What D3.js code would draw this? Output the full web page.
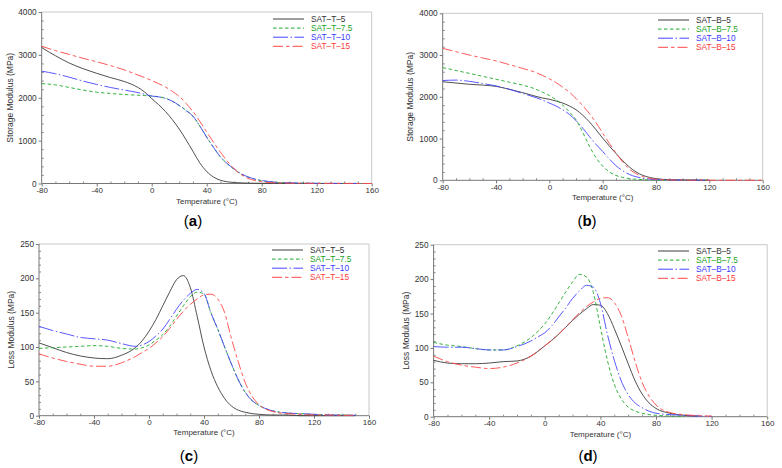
<!DOCTYPE html>
<html><head><meta charset="utf-8">
<script src="https://cdn.jsdelivr.net/npm/d3@7"></script>
<style>body{margin:0;background:#fff}svg{display:block}text{font-family:"Liberation Sans",Arial,sans-serif}</style>
</head><body><svg id="c" width="782" height="468"></svg>
<script>
// ---------- DATA ----------
const temps = [-80,-70,-60,-50,-40,-30,-20,-10,-5,0,5,10,15,20,25,30,35,40,45,50,55,60,65,70,75,80,90,100,110,120,130,140,150,160];
const namesT = ["SAT–T–5","SAT–T–7.5","SAT–T–10","SAT–T–15"];
const namesB = ["SAT–B–5","SAT–B–7.5","SAT–B–10","SAT–B–15"];
const xTicks = [-80,-40,0,40,80,120,160];
const storageTicks = [0,1000,2000,3000,4000];
const lossTicks = [0,50,100,150,200,250];

// (a) storage modulus, SAT-T
const aT5  = [3170,2980,2810,2680,2570,2470,2380,2240,2130,1980,1840,1680,1490,1270,1020,750,480,280,150,75,40,22,14,9,6,4,2,1,1,0,0,0,0,null];
const aT75 = [2330,2300,2240,2180,2130,2100,2075,2060,2050,2040,2025,1990,1920,1820,1710,1570,1340,1080,840,620,460,330,220,150,100,65,30,15,8,5,3,2,1,null];
const aT10 = [2620,2560,2480,2390,2310,2240,2180,2120,2080,2040,2020,1985,1920,1820,1700,1570,1340,1080,840,620,460,340,230,155,105,70,30,15,8,5,3,2,1,null];
const aT15 = [3200,3100,3010,2920,2840,2750,2650,2530,2470,2400,2330,2250,2150,2030,1870,1680,1450,1200,960,730,520,340,210,120,70,40,15,8,5,3,2,2,1,1];
// (b) storage modulus, SAT-B
const bB5  = [2360,2330,2300,2280,2250,2180,2100,2010,1970,1940,1900,1850,1780,1690,1560,1400,1210,1010,820,640,470,320,200,120,70,40,15,8,5,3,null,null,null,null];
const bB75 = [2700,2630,2560,2490,2420,2350,2280,2180,2110,2030,1930,1800,1640,1450,1150,820,540,340,200,115,70,40,25,15,10,6,3,2,1,1,null,null,null,null];
const bB10 = [2390,2400,2370,2320,2260,2180,2080,1980,1920,1850,1780,1690,1580,1430,1250,1050,860,690,510,350,230,140,85,50,30,18,8,4,2,1,null,null,null,null];
const bB15 = [3160,3080,3000,2930,2860,2770,2680,2580,2510,2430,2340,2230,2110,1960,1790,1600,1380,1130,880,650,440,270,160,90,50,25,10,5,3,2,1,1,1,1];
// (c) loss modulus, SAT-T
const cT5  = [106,99,92,87,84,83,88,99,109,123,140,160,180,198,204,187,145,100,66,42,25,14,8,5,3,2,1,1,0,0,0,0,0,null];
const cT75 = [98,99,100,101,102,101,98,97,99,103,110,118,130,145,160,173,180,177,150,126,100,75,52,34,22,15,7,4,3,2,1,1,0.5,null];
const cT10 = [130,124,119,114,112,110,105,101,103,108,116,126,140,155,168,178,184,178,150,126,100,75,52,34,22,15,7,4,3,2,1,1,0.5,null];
const cT15 = [90,84,79,75,72,72,77,86,92,98,106,115,127,140,152,162,170,176,177,170,150,112,78,48,28,16,6,3,2,1,1,0.5,0.5,null];
// (d) loss modulus, SAT-B
const dB5  = [82,78,77,77,78,80,81,88,95,103,111,120,130,140,149,157,163,162,150,128,103,77,52,33,20,12,5,2,1,null,null,null,null,null];
const dB75 = [108,104,102,99,97,97,103,115,124,135,149,165,181,196,207,203,180,130,82,47,26,14,8,5,3,2,1,0.5,null,null,null,null,null,null];
const dB10 = [102,101,101,99,97,97,102,110,116,122,132,145,158,172,183,191,188,165,120,82,52,32,20,13,8,5,3,2,1,0.5,null,null,null,null];
const dB15 = [88,80,75,72,70,72,78,88,95,103,111,120,130,141,151,160,167,172,173,166,147,115,80,50,30,17,6,3,1.5,1,null,null,null,null];

// ---------- STYLE ----------
const colors = ["#3c3c3c","#1faa2a","#4646ff","#ff4646"];
const textColors = ["#333333","#1a9f25","#3a3aff","#ff3a3a"];
const dashes = [null,"3.5,2.5","15,2.5,1.5,2.5","10,3,3.5,3"];

const panels = [
  {label:"a", names:namesT, series:[aT5,aT75,aT10,aT15], ticks:storageTicks, ymax:4000, minor:200, ytitle:"Storage Modulus (MPa)",
   l:41.7,r:371.7,t:12,b:183.5, legX:273, legY:19, ytx:10, xtY:204, labX:193, labY:226},
  {label:"b", names:namesB, series:[bB5,bB75,bB10,bB15], ticks:storageTicks, ymax:4000, minor:200, ytitle:"Storage Modulus (MPa)",
   l:442.7,r:762.7,t:13.3,b:180.3, legX:658, legY:20, ytx:410, xtY:200, labX:587, labY:226},
  {label:"c", names:namesT, series:[cT5,cT75,cT10,cT15], ticks:lossTicks, ymax:250, minor:10, ytitle:"Loss Modulus (MPa)",
   l:39,r:369,t:244,b:415.7, legX:272, legY:250, ytx:11, xtY:435, labX:189, labY:461},
  {label:"d", names:namesB, series:[dB5,dB75,dB10,dB15], ticks:lossTicks, ymax:250, minor:10, ytitle:"Loss Modulus (MPa)",
   l:433.6,r:767.2,t:244.7,b:416.7, legX:658, legY:251, ytx:406, xtY:437, labX:588, labY:461}
];

const svg = d3.select("#c");
const fmt = d => String(d);

panels.forEach(p => {
  const g = svg.append("g");
  const x = d3.scaleLinear().domain([-80,160]).range([p.l,p.r]);
  const y = d3.scaleLinear().domain([0,p.ymax]).range([p.b,p.t]);

  // frame top/right
  g.append("path").attr("d",`M${p.l},${p.t}H${p.r}V${p.b}`).attr("fill","none").attr("stroke","#c8c8c8").attr("stroke-width",1);

  // minor ticks
  const xMinor = d3.range(-80,161,10).filter(v=>!xTicks.includes(v));
  const yMinor = d3.range(0,p.ymax+0.001,p.minor).filter(v=>!p.ticks.includes(v));
  const xm = d3.axisBottom(x).tickValues(xMinor).tickSize(-2).tickFormat("");
  g.append("g").attr("transform",`translate(0,${p.b})`).call(xm).call(s=>{s.select(".domain").remove();s.selectAll("line").attr("stroke","#888");});
  const ym = d3.axisLeft(y).tickValues(yMinor).tickSize(-2).tickFormat("");
  g.append("g").attr("transform",`translate(${p.l},0)`).call(ym).call(s=>{s.select(".domain").remove();s.selectAll("line").attr("stroke","#888");});

  // major axes
  const xa = d3.axisBottom(x).tickValues(xTicks).tickSize(3).tickPadding(1).tickFormat(fmt);
  const xg = g.append("g").attr("transform",`translate(0,${p.b})`).call(xa);
  xg.select(".domain").attr("stroke","#777").attr("d",`M${p.l},0H${p.r}`);
  xg.selectAll("line").attr("stroke","#777");
  xg.selectAll("text").attr("font-size",8).attr("fill","#333").attr("font-family","Liberation Sans, Arial, sans-serif");
  const ya = d3.axisLeft(y).tickValues(p.ticks).tickSize(3).tickPadding(2).tickFormat(fmt);
  const yg = g.append("g").attr("transform",`translate(${p.l},0)`).call(ya);
  yg.select(".domain").attr("stroke","#777").attr("d",`M0,${p.b}V${p.t}`);
  yg.selectAll("line").attr("stroke","#777");
  yg.selectAll("text").attr("font-size",8.3).attr("fill","#333").attr("font-family","Liberation Sans, Arial, sans-serif");

  // titles
  g.append("text").attr("x",(p.l+p.r)/2).attr("y",p.xtY).attr("text-anchor","middle").attr("font-size",8).attr("fill","#333").text("Temperature (°C)");
  g.append("text").attr("transform",`translate(${p.ytx},${(p.t+p.b)/2}) rotate(-90)`).attr("text-anchor","middle").attr("dy","0.35em")
    .attr("font-size",8.5).attr("fill","#333").text(p.ytitle);

  // lines
  const line = d3.line().defined(d=>d[1]!=null).x(d=>x(d[0])).y(d=>y(d[1])).curve(d3.curveMonotoneX);
  p.series.forEach((vals,i)=>{
    const pts = temps.map((t,k)=>[t,vals[k]]);
    g.append("path").attr("d",line(pts)).attr("fill","none").attr("stroke",colors[i]).attr("stroke-width",0.9)
      .attr("stroke-dasharray",dashes[i]);
  });

  // legend
  p.names.forEach((n,i)=>{
    const yy = p.legY + i*9.1;
    g.append("line").attr("x1",p.legX).attr("x2",p.legX+31).attr("y1",yy).attr("y2",yy)
      .attr("stroke",colors[i]).attr("stroke-width",1).attr("stroke-dasharray",dashes[i]);
    g.append("text").attr("x",p.legX+38).attr("y",yy).attr("dy","0.35em").attr("font-size",8.3).attr("fill",textColors[i]).text(n);
  });

  // panel label
  const lt = g.append("text").attr("x",p.labX).attr("y",p.labY).attr("text-anchor","middle").attr("font-size",15)
    .attr("font-family","Liberation Serif, Times New Roman, serif").attr("fill","#000");
  lt.append("tspan").text("(");
  lt.append("tspan").attr("font-weight","bold").text(p.label);
  lt.append("tspan").text(")");
});
</script></body></html>
